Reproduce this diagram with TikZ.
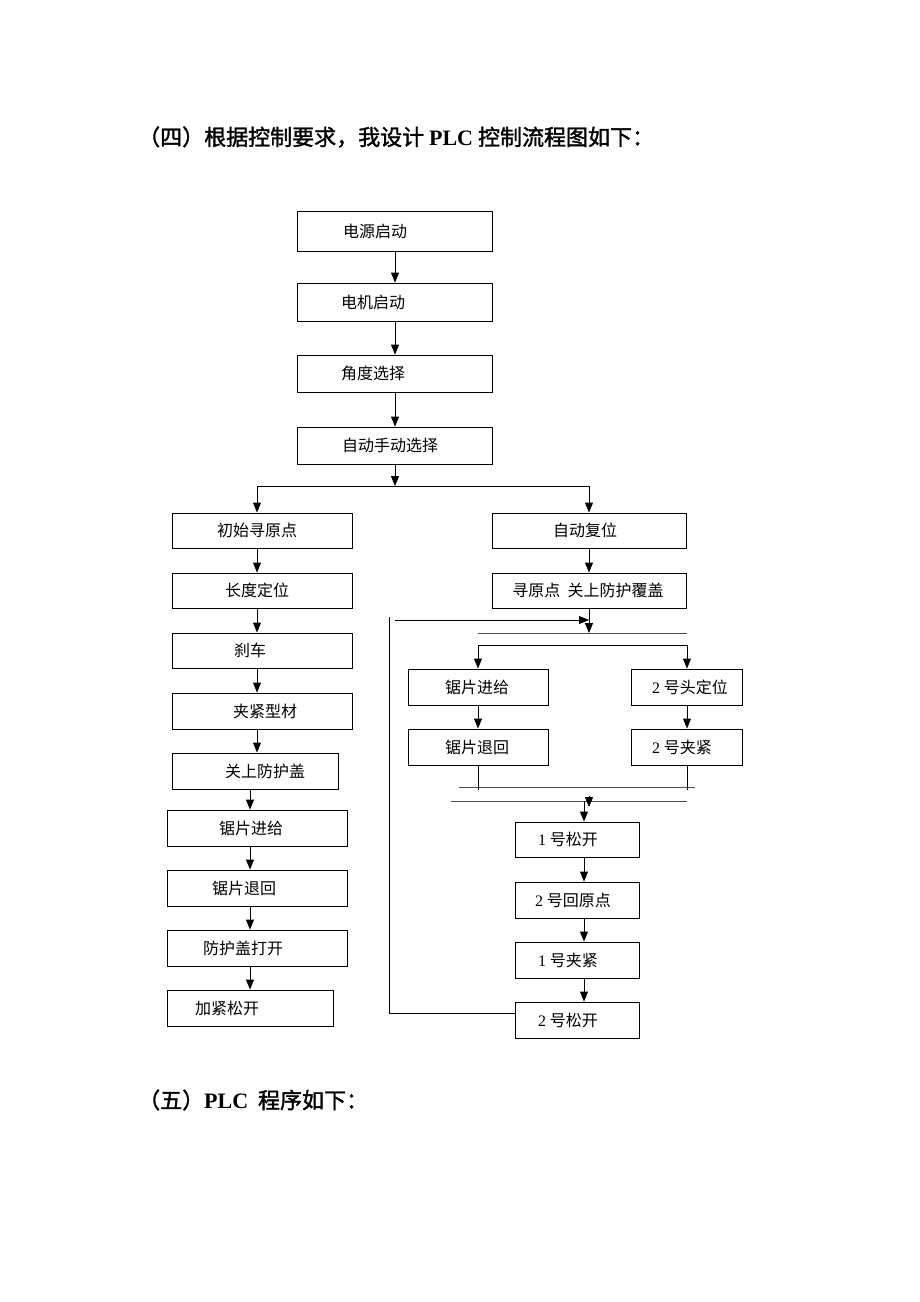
\documentclass[tikz,border=0pt]{standalone}
\usepackage{fontspec}
\setmainfont{Liberation Serif}
\newfontfamily\cjk{Noto Sans CJK SC}
\newfontfamily\cjkb[FakeBold=1.5]{Noto Sans CJK SC}
\usetikzlibrary{arrows.meta,fit}
\tikzset{
 box/.style={draw, line width=0.9pt, inner sep=0pt},
 txt/.style={font=\fontsize{16}{16}\selectfont\cjk, inner sep=0pt},
 arr/.style={line width=0.9pt, -{Triangle[length=10pt,width=8pt]}},
 ln/.style={line width=0.9pt},
 bar/.style={line width=0.9pt, draw=black!70},
 ttl/.style={anchor=west, inner sep=0pt, font=\fontsize{22}{22}\selectfont\cjkb}
}
\newcommand\bx[7]{\node[box, fit={(#2,#3) (#4,#5)}] (#1) {};
 \node[txt] (#1t) at (#6,{(#3+#5)/2}) {#7};}
\begin{document}
\begin{tikzpicture}[x=1pt,y=-1pt]
\useasboundingbox[fill=white] (0,0) rectangle (920,1302);
\node[ttl] (t1) at (138,137) {（四）根据控制要求，我设计 {\rmfamily\bfseries PLC} 控制流程图如下：};
\node[ttl] (t2) at (138,1100) {（五）{\rmfamily\bfseries PLC}\ \ 程序如下：};
% top column
\bx{a1}{297}{211}{492}{251}{375}{电源启动}
\bx{a2}{297}{283}{492}{321}{373}{电机启动}
\bx{a3}{297}{355}{492}{392}{373}{角度选择}
\bx{a4}{297}{427}{492}{464}{390}{自动手动选择}
\draw[arr] (a1.south -| 395,0) -- (a2.north -| 395,0);
\draw[arr] (a2.south -| 395,0) -- (a3.north -| 395,0);
\draw[arr] (a3.south -| 395,0) -- (a4.north -| 395,0);
% split
\coordinate (s) at (395,486);
\coordinate (sl) at (257,486);
\coordinate (sr) at (589,486);
\draw[arr] (a4.south -| s) -- (s);
\draw[ln] (sl) -- (sr);
% left column
\bx{b1}{172}{513}{352}{548}{257}{初始寻原点}
\bx{b2}{172}{573}{352}{608}{257}{长度定位}
\bx{b3}{172}{633}{352}{668}{250}{刹车}
\bx{b4}{172}{693}{352}{729}{265}{夹紧型材}
\bx{b5}{172}{753}{338}{789}{265}{关上防护盖}
\bx{b6}{167}{810}{347}{846}{251}{锯片进给}
\bx{b7}{167}{870}{347}{906}{244}{锯片退回}
\bx{b8}{167}{930}{347}{966}{243}{防护盖打开}
\bx{b9}{167}{990}{333}{1026}{227}{加紧松开}
\draw[arr] (sl) -- (b1.north -| sl);
\draw[arr] (b1.south -| 257,0) -- (b2.north -| 257,0);
\draw[arr] (b2.south -| 257,0) -- (b3.north -| 257,0);
\draw[arr] (b3.south -| 257,0) -- (b4.north -| 257,0);
\draw[arr] (b4.south -| 257,0) -- (b5.north -| 257,0);
\draw[arr] (b5.south -| 250,0) -- (b6.north -| 250,0);
\draw[arr] (b6.south -| 250,0) -- (b7.north -| 250,0);
\draw[arr] (b7.south -| 250,0) -- (b8.north -| 250,0);
\draw[arr] (b8.south -| 250,0) -- (b9.north -| 250,0);
% right column
\bx{c1}{492}{513}{686}{548}{585}{自动复位}
\bx{c2}{492}{573}{686}{608}{588}{寻原点\ \ 关上防护覆盖}
\draw[arr] (sr) -- (c1.north -| sr);
\draw[arr] (c1.south -| 589,0) -- (c2.north -| 589,0);
\coordinate (bar1) at (589,633);
\draw[arr] (c2.south -| bar1) -- (bar1);
\draw[bar] (478,633) -- (687,633);
% feedback loop
\coordinate (fbtop) at (389,617);
\coordinate (fbbot) at (389,1013);
\coordinate (fbin) at (395,620);
\coordinate (fbend) at (589,620);
\draw[arr] (fbin) -- (fbend);
% sub branches
\bx{e1}{408}{669}{548}{705}{477}{锯片进给}
\bx{e2}{408}{729}{548}{765}{477}{锯片退回}
\bx{f1}{631}{669}{742}{705}{690}{{\rmfamily 2} 号头定位}
\bx{f2}{631}{729}{742}{765}{682}{{\rmfamily 2} 号夹紧}
\coordinate (el) at (478,645);
\coordinate (fr) at (687,645);
\draw[ln] (el) -- (fr);
\draw[arr] (el) -- (e1.north -| el);
\draw[arr] (fr) -- (f1.north -| fr);
\draw[arr] (e1.south -| el) -- (e2.north -| el);
\draw[arr] (f1.south -| fr) -- (f2.north -| fr);
\coordinate (e2b) at (478,790);
\coordinate (f2b) at (687,790);
\draw[ln] (e2.south -| e2b) -- (e2b);
\draw[ln] (f2.south -| f2b) -- (f2b);
\draw[bar] (459,787) -- (695,787);
\draw[bar] (451,801) -- (687,801);
\coordinate (m1) at (589,796);
\coordinate (m2) at (589,807);
\draw[arr] (m1) -- (m2);
% bottom column
\bx{d1}{515}{822}{639}{857}{568}{{\rmfamily 1} 号松开}
\bx{d2}{515}{882}{639}{918}{573}{{\rmfamily 2} 号回原点}
\bx{d3}{515}{942}{639}{978}{568}{{\rmfamily 1} 号夹紧}
\bx{d4}{515}{1002}{639}{1038}{568}{{\rmfamily 2} 号松开}
\coordinate (j4) at (584,801);
\draw[arr] (j4) -- (d1.north -| j4);
\draw[arr] (d1.south -| j4) -- (d2.north -| j4);
\draw[arr] (d2.south -| j4) -- (d3.north -| j4);
\draw[arr] (d3.south -| j4) -- (d4.north -| j4);
\draw[ln] (fbtop) -- (fbbot) -- (d4.west |- fbbot);
\end{tikzpicture}
\end{document}
